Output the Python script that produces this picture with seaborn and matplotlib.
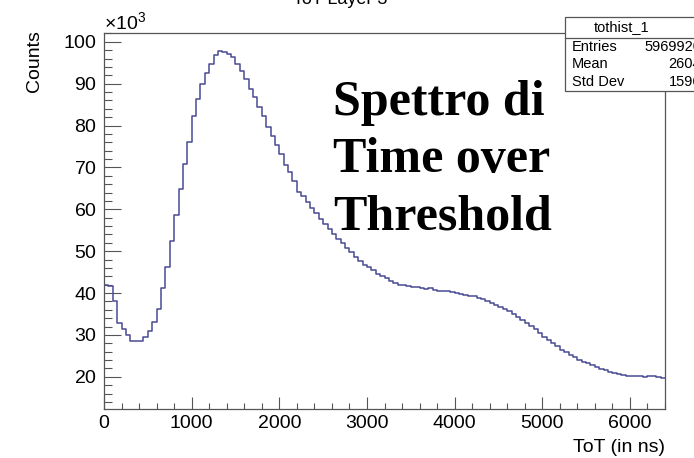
import matplotlib
matplotlib.use("Agg")
import matplotlib.pyplot as plt
import seaborn as sns
import numpy as np
import pandas as pd
from matplotlib.ticker import MultipleLocator
from matplotlib.patches import Rectangle

# ToT spectrum, layer 3 -- counts per 50 ns bin, 0..6400 ns
bin_width = 50
tot_min = 0
tot_max = 6400
counts = [
    42000, 41600, 38100, 32800, 31400, 30000, 28600, 28500, 28600, 29500,
    31000, 33100, 36300, 41200, 46300, 52500, 58600, 64800, 70900, 76100,
    82300, 86300, 90000, 92600, 94800, 96800, 97800, 97600, 97200, 96400,
    94800, 93100, 91000, 88800, 86800, 84400, 82300, 79700, 77400, 75300,
    73300, 70500, 68900, 66700, 64200, 63200, 61800, 60400, 59000, 57700,
    56400, 55200, 54100, 53000, 51900, 50700, 49700, 48700, 47700, 46800,
    46100, 45400, 44600, 44000, 43500, 42900, 42500, 42000, 41800, 41700,
    41500, 41400, 41200, 41000, 41100, 40700, 40600, 40500, 40600, 40200,
    40000, 39800, 39600, 39400, 39200, 38900, 38600, 38200, 37700, 37100,
    36600, 36200, 35600, 34900, 34300, 33600, 32900, 32100, 31300, 30400,
    29600, 28800, 28000, 27300, 26500, 25800, 25100, 24600, 24100, 23600,
    23200, 22700, 22300, 21900, 21600, 21200, 20900, 20700, 20500, 20300,
    20200, 20200, 20100, 20000, 20200, 20100, 19900, 19800,
]

title = "ToT Layer 3"
hist_name = "tothist_1"
stats_labels = ["Entries", "Mean", "Std Dev"]
stats_values = ["5969920", "2604", "1596"]
overlay = "Spettro di\nTime over\nThreshold"
x_title = "ToT (in ns)"
y_title = "Counts"

sns.set_style("ticks")
plt.rcParams["font.family"] = ["Liberation Sans", "DejaVu Sans"]
plt.rcParams["text.color"] = "black"
plt.rcParams["mathtext.fontset"] = "custom"
plt.rcParams["mathtext.rm"] = "Liberation Sans"
plt.rcParams["mathtext.it"] = "Liberation Sans:italic"

W, H = 694, 458
fig = plt.figure(figsize=(W / 100, H / 100), dpi=100)
ax = fig.add_axes([104 / W, 1 - 409 / H, (665 - 104) / W, (409 - 33) / H])

line_col = "#4a4a95"
frame_col = "#555555"

edges = np.arange(tot_min, tot_max + bin_width, bin_width)
df = pd.DataFrame({"tot": edges[:-1] + bin_width / 2, "counts": counts})
sns.histplot(data=df, x="tot", weights="counts", bins=list(edges), element="step",
             fill=False, color=line_col, linewidth=1.1, ax=ax)
# left edge of the first bin (ROOT draws it down to the axis)
ax.plot([edges[0], edges[0]], [0, counts[0]], color=line_col, lw=1.1)

ax.set_xlim(tot_min, tot_max)
ax.set_ylim(12300, 102100)
ax.set_xlabel("")
ax.set_ylabel("")

ax.xaxis.set_major_locator(MultipleLocator(1000))
ax.xaxis.set_minor_locator(MultipleLocator(200))
ax.yaxis.set_major_locator(MultipleLocator(10000))
ax.yaxis.set_minor_locator(MultipleLocator(2000))
ax.ticklabel_format(axis="y", style="sci", scilimits=(3, 3), useMathText=True)
ax.yaxis.get_offset_text().set_fontsize(14)
ax.yaxis.get_offset_text().set_color("black")

ax.tick_params(axis="both", which="both", direction="in", color=frame_col,
               width=0.8, labelsize=14, labelcolor="black", left=True, bottom=True)
ax.tick_params(axis="y", which="major", length=12, pad=5)
ax.tick_params(axis="y", which="minor", length=6)
ax.tick_params(axis="x", which="major", length=9, pad=4)
ax.tick_params(axis="x", which="minor", length=4.5)
for sp in ax.spines.values():
    sp.set_visible(True)
    sp.set_color(frame_col)
    sp.set_linewidth(0.9)

fig.text(665 / W, 1 - 456 / H, x_title, ha="right", va="bottom", fontsize=14)
fig.text(35 / W, 1 - 30 / H, y_title, ha="center", va="top", rotation=90, fontsize=14)
fig.text(340 / W, 1 - 4 / H, title, ha="center", va="baseline", fontsize=13)

fig.text(333 / W, 1 - 229 / H, overlay, family=["Liberation Serif"], weight="bold",
         color="black", fontsize=36, ha="left", va="baseline", linespacing=1.31)

# stats box, cut by the right edge like in the original
box_top, box_sep, box_bot = 17, 38, 91
fig.add_artist(Rectangle((565 / W, 1 - box_bot / H), (730 - 565) / W, (box_bot - box_top) / H,
                         transform=fig.transFigure, facecolor="white",
                         edgecolor=frame_col, linewidth=0.9, zorder=5))
fig.add_artist(plt.Line2D([565 / W, 1], [1 - box_sep / H, 1 - box_sep / H],
                          transform=fig.transFigure, color=frame_col, lw=0.9, zorder=6))
fig.text(622 / W, 1 - 27.5 / H, hist_name, ha="center", va="center", fontsize=10.5, zorder=7)
for i, (lab, val) in enumerate(zip(stats_labels, stats_values)):
    y = 1 - (47 + 17.5 * i) / H
    fig.text(572 / W, y, lab, ha="left", va="center", fontsize=10.5, zorder=7)
    fig.text(701 / W, y, val, ha="right", va="center", fontsize=10.5, zorder=7)

fig.savefig("out.png", dpi=100)
